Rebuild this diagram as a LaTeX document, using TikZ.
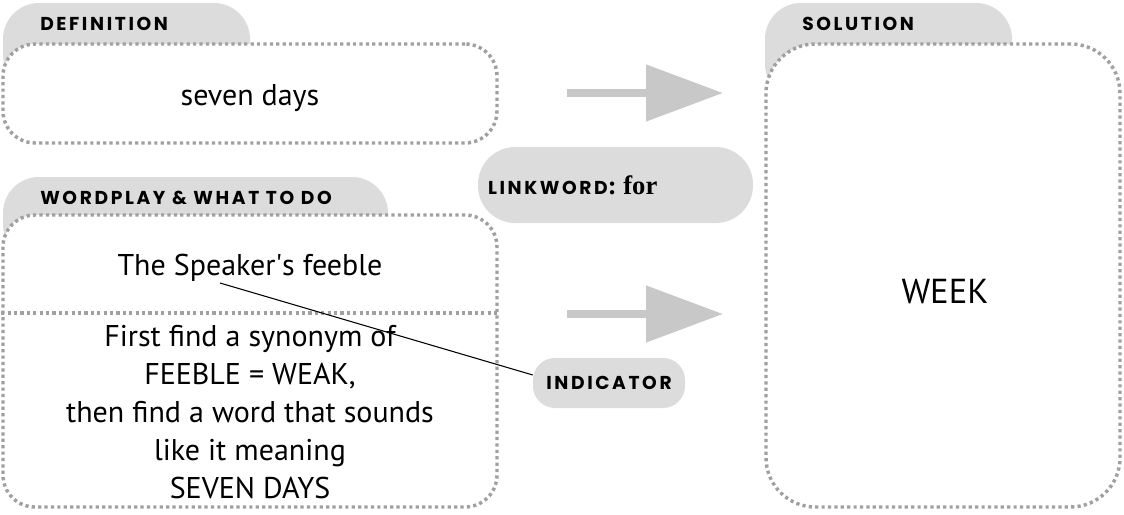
\documentclass[tikz,border=0pt]{standalone}
\usepackage{fontspec}
\setmainfont{PT Sans}
\newfontfamily\capsfont[LetterSpace=14]{Poppins}
\newfontfamily\serifword{Liberation Serif}
\usetikzlibrary{arrows.meta,positioning}
\definecolor{tabgray}{RGB}{220,220,220}
\definecolor{dotgray}{RGB}{160,160,160}
\definecolor{arrowgray}{RGB}{200,200,200}

\begin{document}
\begin{tikzpicture}[
  x=0.75pt,y=-0.75pt,
  every node/.style={font=\fontsize{22.5}{28.5}\selectfont},
  tabshape/.style={fill=tabgray,rounded corners=27pt},
  capslbl/.style={font=\capsfont\bfseries\fontsize{14}{16}\selectfont,inner sep=0pt},
  dotbox/.style={draw=dotgray,fill=white,line width=2.6pt,dash pattern=on 2.4pt off 2.4pt,rounded corners=24pt},
  pill/.style={fill=tabgray,rounded corners=#1},
  bigarrow/.style={draw=arrowgray,line width=6pt,-{Triangle[length=57.75pt,width=41.25pt]}},
]
  \useasboundingbox (0,0) rectangle (1124,514);

  % Tabs behind the boxes
  \fill[tabshape] (3,3) rectangle (250,90);
  \fill[tabshape] (3,177) rectangle (388,260);
  \fill[tabshape] (765,3) rectangle (1012,100);

  % Dotted boxes
  \node[dotbox,minimum width=370.5pt,minimum height=74.25pt] (def) at (250,93.5) {};
  \node[dotbox,minimum width=370.5pt,minimum height=219pt] (wp) at (250,361) {};
  \node[dotbox,rounded corners=37pt,minimum width=265.5pt,minimum height=347.25pt] (sol) at (943,275.5) {};
  \draw[dotbox] (wp.west |- 0,313) -- (wp.east |- 0,313);

  % Tab labels
  \node[capslbl,anchor=west] (deflbl) at (40,24) {DEFINITION};
  \node[capslbl,anchor=west] (wplbl) at (40,198) {WORDPLAY \& WHAT TO DO};
  \node[capslbl,anchor=west] (sollbl) at (802,24) {SOLUTION};

  % Box texts
  \node (deftxt) at (250,98) {seven days};
  \node (clue) at (250,268) {The Speaker\textquotesingle s feeble};
  \node[align=center] (howto) at (250,412)
    {First find a synonym of\\FEEBLE = WEAK,\\then find a word that sounds\\like it meaning\\SEVEN DAYS};
  \node[font=\fontsize{26}{30}\selectfont] (answer) at (945,292) {WEEK};

  % Linkword and indicator
  \node[pill=28pt,minimum width=206.25pt,minimum height=57pt] (link) at (615.5,185) {};
  \node[capslbl,anchor=west,right=7.5pt of link.west] (linklbl)
    {LINKWORD{\serifword\bfseries\fontsize{20}{22}\selectfont: for}};
  \node[pill=16.5pt,capslbl,minimum width=114pt,minimum height=37.5pt] (ind) at (609,383) {INDICATOR};

  % Arrows
  \coordinate (a1s) at (567,93);
  \coordinate (a1e) at (723,93);
  \coordinate (a2s) at (567,314);
  \coordinate (a2e) at (723,314);
  \draw[bigarrow] (a1s) -- (a1e);
  \draw[bigarrow] (a2s) -- (a2e);

  % Pointer from clue word to indicator
  \coordinate (spk) at (220,283);
  \draw[line width=0.8pt] (spk) -- (ind.174);
\end{tikzpicture}
\end{document}
